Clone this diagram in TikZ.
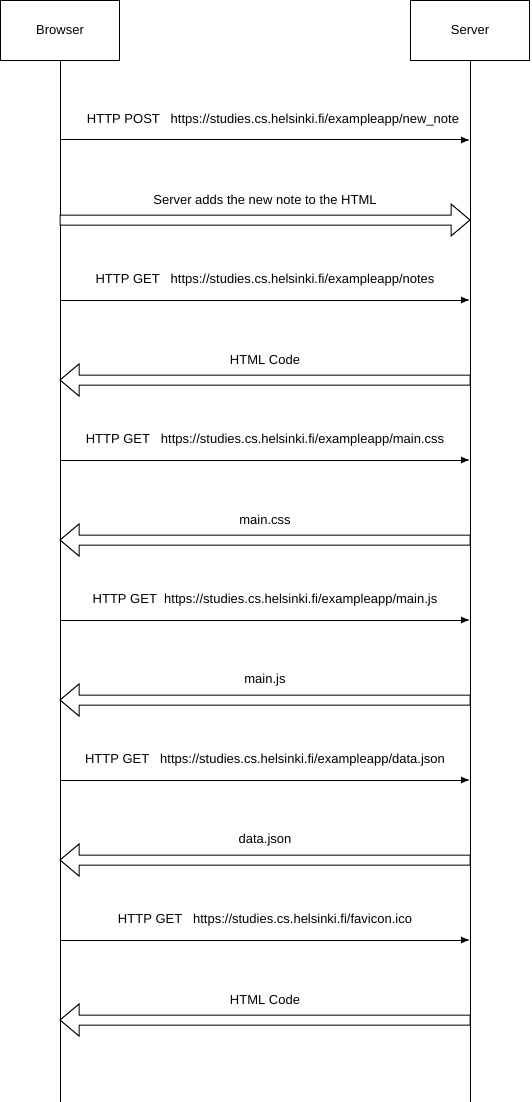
\documentclass[tikz,border=0pt]{standalone}
\usepackage{fontspec}
\setmainfont{Liberation Sans}
\usepackage{tikz}
\usetikzlibrary{arrows.meta,positioning,calc}

\tikzset{
    actor/.style={draw, line width=1pt, minimum width=119pt, minimum height=60pt, inner sep=0pt},
    lifeline/.style={line width=1pt},
    request/.style={line width=1pt, -{Latex[length=9pt,width=7pt]}},
    block/.style={draw, line width=1pt, fill=white, line join=miter},
    msg/.style={inner sep=0pt}
}

\begin{document}
\begin{tikzpicture}[x=1pt, y=-1pt, every node/.style={font=\fontsize{13}{15}\selectfont}]
    \useasboundingbox (0,0) rectangle (531,1102);

    % Draw actors and lifelines
    \node[actor] (browser) at (60,30.5) {Browser};
    \node[actor] (server) at (470,30.5) {Server};
    \coordinate (browserend) at (60,1102);
    \coordinate (serverend) at (470,1102);
    \draw[lifeline] (browser) -- (browserend);
    \draw[lifeline] (server) -- (serverend);

    % Message points, requests
    \foreach \i in {0,...,5} {
        \coordinate (reqb\i) at (60,140+\i*160);
        \coordinate (reqs\i) at (470,140+\i*160);
        \coordinate (resb\i) at (60,220+\i*160);
        \coordinate (ress\i) at (470,220+\i*160);
        \draw[request] (reqb\i) -- (reqs\i);
    }

    % Server update (to the right)
    \draw[block] ($(resb0)+(0,-5)$) -- ($(ress0)+(-19,-5)$) -- ($(ress0)+(-19,-16)$) -- (ress0)
        -- ($(ress0)+(-19,16)$) -- ($(ress0)+(-19,5)$) -- ($(resb0)+(0,5)$) -- cycle;

    % Responses (to the left)
    \foreach \i in {1,...,5} {
        \draw[block] ($(ress\i)+(0,-5)$) -- ($(resb\i)+(19,-5)$) -- ($(resb\i)+(19,-16)$) -- (resb\i)
            -- ($(resb\i)+(19,16)$) -- ($(resb\i)+(19,5)$) -- ($(ress\i)+(0,5)$) -- cycle;
    }

    % Labels
    \node[msg] (post) at ($(reqb0)!0.5!(reqs0)+(8,-20)$) {HTTP POST\ \ \ https://studies.cs.helsinki.fi/exampleapp/new\_note};
    \node[msg] (adds) at ($(resb0)!0.5!(ress0)+(0,-20)$) {Server adds the new note to the HTML};
    \node[msg] (notes) at ($(reqb1)!0.5!(reqs1)+(0,-20)$) {HTTP GET\ \ \ https://studies.cs.helsinki.fi/exampleapp/notes};
    \node[msg] (html) at ($(resb1)!0.5!(ress1)+(0,-20)$) {HTML Code};
    \node[msg] (getcss) at ($(reqb2)!0.5!(reqs2)+(0,-20)$) {HTTP GET\ \ \ https://studies.cs.helsinki.fi/exampleapp/main.css};
    \node[msg] (css) at ($(resb2)!0.5!(ress2)+(0,-20)$) {main.css};
    \node[msg] (getjs) at ($(reqb3)!0.5!(reqs3)+(0,-20)$) {HTTP GET\ \ https://studies.cs.helsinki.fi/exampleapp/main.js};
    \node[msg] (js) at ($(resb3)!0.5!(ress3)+(0,-20)$) {main.js};
    \node[msg] (getjson) at ($(reqb4)!0.5!(reqs4)+(0,-20)$) {HTTP GET\ \ \ https://studies.cs.helsinki.fi/exampleapp/data.json};
    \node[msg] (json) at ($(resb4)!0.5!(ress4)+(0,-20)$) {data.json};
    \node[msg] (getico) at ($(reqb5)!0.5!(reqs5)+(0,-20)$) {HTTP GET\ \ \ https://studies.cs.helsinki.fi/favicon.ico};
    \node[msg] (ico) at ($(resb5)!0.5!(ress5)+(0,-20)$) {HTML Code};
\end{tikzpicture}
\end{document}
